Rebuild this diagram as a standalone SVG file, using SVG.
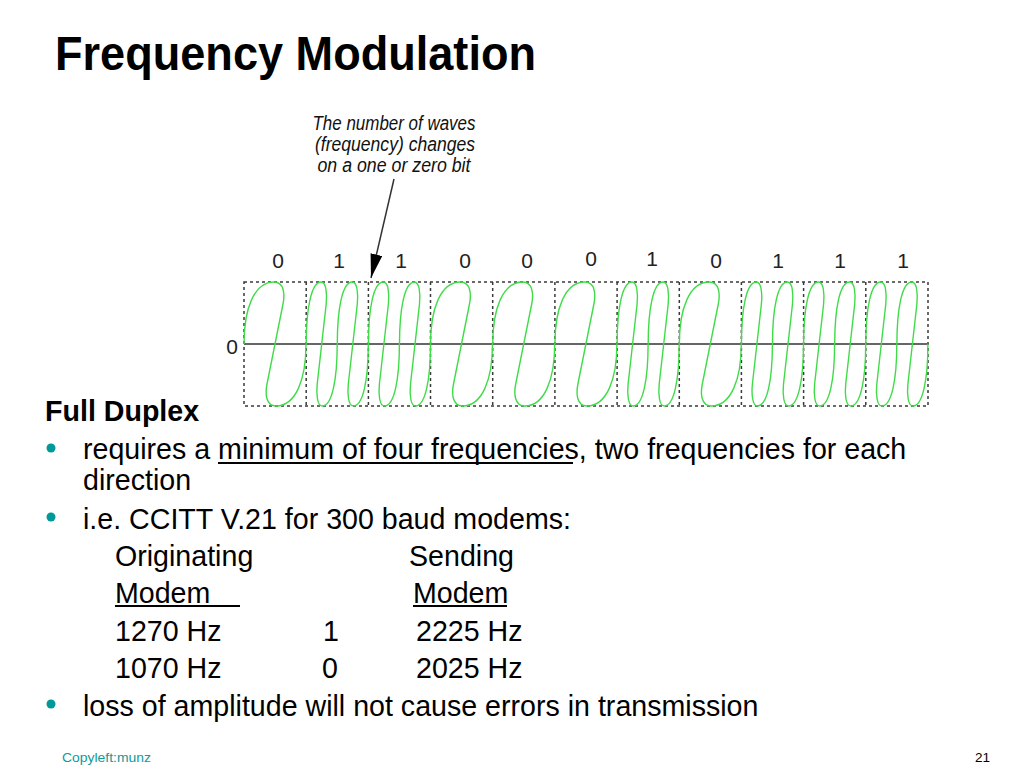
<svg xmlns="http://www.w3.org/2000/svg" width="1024" height="768" viewBox="0 0 1024 768">
  <defs>
    <style>
      .title { font-family: "Liberation Sans", Arial, sans-serif; font-weight: bold; font-size: 49px; fill: #000; }
      .body { font-family: "Liberation Sans", Arial, sans-serif; font-size: 28.6px; fill: #000; }
      .bold { font-weight: bold; }
      .bit { font-family: "Liberation Sans", Arial, sans-serif; font-size: 21px; fill: #222; text-anchor: middle; }
      .note { font-family: "Liberation Sans", Arial, sans-serif; font-style: italic; font-size: 20.5px; fill: #111; text-anchor: middle; }
      .foot { font-family: "Liberation Sans", Arial, sans-serif; font-size: 13.5px; }
      .wave { fill: none; stroke: #3fdc48; stroke-width: 1.4; }
      .grid { fill: none; stroke: #3a3a3a; stroke-width: 1.5; stroke-dasharray: 3 3; }
      .bullet { fill: #009999; }
      .ul { fill: #000; }
    </style>
    <path id="c0" class="wave" d="M0,0 C0,-35 10,-62 30,-62 C40,-62 41,-50 39,-40 L23,40 C21,50 22,62 32,62 C52,62 62,35 62,0"/>
    <path id="c1" class="wave" d="M0,0 C0,-35 5,-62 15,-62 C20,-62 21,-50 20,-40 L11,40 C10,50 11,62 16,62 C26,62 31,35 31,0"/>
    <marker id="arrowhead" markerWidth="26" markerHeight="14" refX="24" refY="6" orient="auto" markerUnits="userSpaceOnUse">
      <path d="M0,0 L24,6 L0,12 Z" fill="#000"/>
    </marker>
  </defs>

  <rect x="0" y="0" width="1024" height="768" fill="#fff"/>

  <g id="title">
    <text class="title" x="55" y="70" textLength="481" lengthAdjust="spacingAndGlyphs">Frequency Modulation</text>
  </g>

  <g id="annotation">
    <text class="note" x="394" y="130" textLength="163" lengthAdjust="spacingAndGlyphs">The number of waves</text>
    <text class="note" x="395" y="151" textLength="160" lengthAdjust="spacingAndGlyphs">(frequency) changes</text>
    <text class="note" x="394" y="172" textLength="153" lengthAdjust="spacingAndGlyphs">on a one or zero bit</text>
  </g>

  <g id="connectors">
    <line x1="394" y1="179" x2="371" y2="278" stroke="#333" stroke-width="1.5" marker-end="url(#arrowhead)"/>
  </g>

  <g id="bit-labels">
    <text class="bit" x="278" y="268">0</text>
    <text class="bit" x="339" y="268">1</text>
    <text class="bit" x="401" y="268">1</text>
    <text class="bit" x="465" y="268">0</text>
    <text class="bit" x="527" y="268">0</text>
    <text class="bit" x="591" y="266">0</text>
    <text class="bit" x="652" y="266">1</text>
    <text class="bit" x="716" y="268">0</text>
    <text class="bit" x="778" y="268">1</text>
    <text class="bit" x="840" y="268">1</text>
    <text class="bit" x="903" y="268">1</text>
    <text class="bit" x="232" y="354">0</text>
  </g>

  <g id="waveform">
    <rect class="grid" x="244" y="282" width="684" height="124"/>
    <g class="grid">
      <line x1="306.2" y1="282" x2="306.2" y2="406"/>
      <line x1="368.4" y1="282" x2="368.4" y2="406"/>
      <line x1="430.5" y1="282" x2="430.5" y2="406"/>
      <line x1="492.7" y1="282" x2="492.7" y2="406"/>
      <line x1="554.9" y1="282" x2="554.9" y2="406"/>
      <line x1="617.1" y1="282" x2="617.1" y2="406"/>
      <line x1="679.3" y1="282" x2="679.3" y2="406"/>
      <line x1="741.4" y1="282" x2="741.4" y2="406"/>
      <line x1="803.6" y1="282" x2="803.6" y2="406"/>
      <line x1="865.8" y1="282" x2="865.8" y2="406"/>
    </g>
    <line x1="244" y1="344" x2="928" y2="344" stroke="#666" stroke-width="2"/>
    <!-- bits: 0 1 1 0 0 0 1 0 1 1 1 -->
    <use href="#c0" x="244" y="344"/>
    <use href="#c1" x="306.2" y="344"/>
    <use href="#c1" x="337.3" y="344"/>
    <use href="#c1" x="368.4" y="344"/>
    <use href="#c1" x="399.5" y="344"/>
    <use href="#c0" x="430.5" y="344"/>
    <use href="#c0" x="492.7" y="344"/>
    <use href="#c0" x="554.9" y="344"/>
    <use href="#c1" x="617.1" y="344"/>
    <use href="#c1" x="648.2" y="344"/>
    <use href="#c0" x="679.3" y="344"/>
    <use href="#c1" x="741.4" y="344"/>
    <use href="#c1" x="772.5" y="344"/>
    <use href="#c1" x="803.6" y="344"/>
    <use href="#c1" x="834.7" y="344"/>
    <use href="#c1" x="865.8" y="344"/>
    <use href="#c1" x="896.9" y="344"/>
  </g>

  <g id="body-text">
    <text class="body bold" x="45" y="421">Full Duplex</text>
    <circle class="bullet" cx="51" cy="448" r="4.5"/>
    <text class="body" x="83" y="459">requires a minimum of four frequencies, two frequencies for each</text>
    <rect class="ul" x="218" y="462" width="355" height="2"/>
    <text class="body" x="83" y="490">direction</text>
    <circle class="bullet" cx="51" cy="517" r="4.5"/>
    <text class="body" x="83" y="529">i.e. CCITT V.21 for 300 baud modems:</text>
    <text class="body" x="115" y="566">Originating</text>
    <text class="body" x="409" y="566">Sending</text>
    <text class="body" x="115" y="603">Modem</text>
    <rect class="ul" x="115" y="605" width="125" height="2"/>
    <text class="body" x="413" y="603">Modem</text>
    <rect class="ul" x="413" y="605" width="94" height="2"/>
    <text class="body" x="115" y="641">1270 Hz</text>
    <text class="body" x="323" y="641">1</text>
    <text class="body" x="416" y="641">2225 Hz</text>
    <text class="body" x="115" y="678">1070 Hz</text>
    <text class="body" x="322" y="678">0</text>
    <text class="body" x="416" y="678">2025 Hz</text>
    <circle class="bullet" cx="51" cy="704" r="4.5"/>
    <text class="body" x="83" y="716">loss of amplitude will not cause errors in transmission</text>
  </g>

  <g id="footer">
    <text class="foot" x="62" y="762" fill="#109a9a" textLength="89" lengthAdjust="spacingAndGlyphs">Copyleft:munz</text>
    <text class="foot" x="990" y="762" fill="#000" text-anchor="end">21</text>
  </g>
</svg>
